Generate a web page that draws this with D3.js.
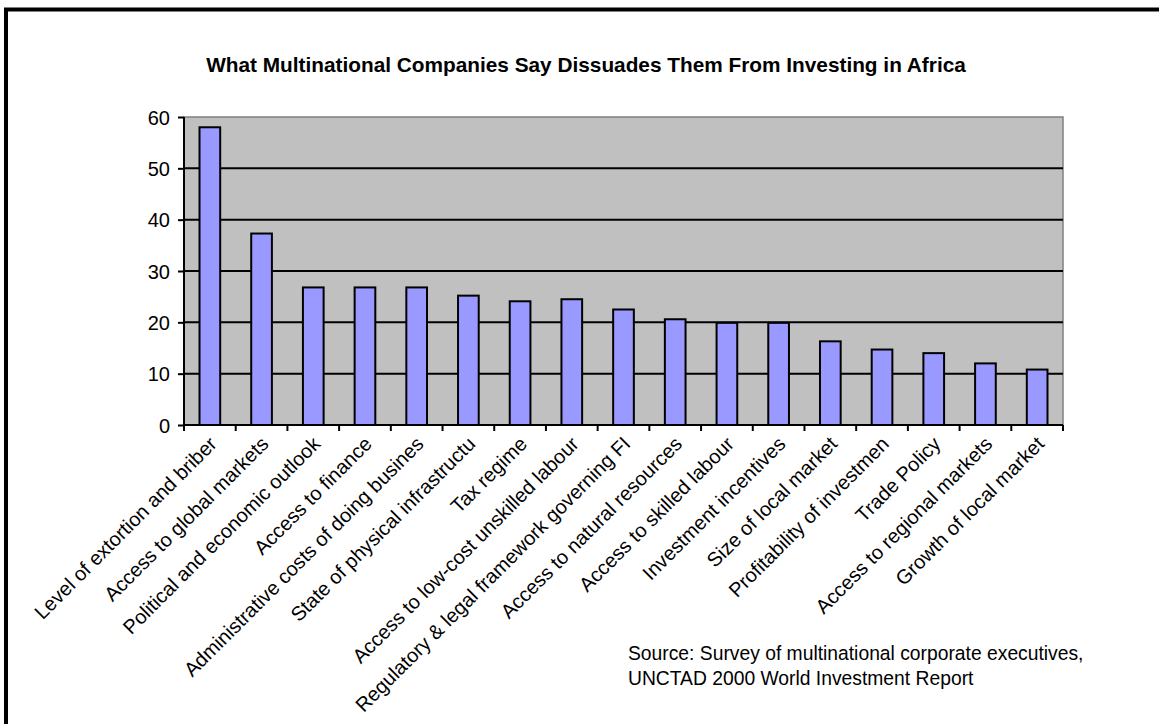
<!DOCTYPE html>
<html><head><meta charset="utf-8">
<script src="https://cdn.jsdelivr.net/npm/d3@7"></script>
<style>html,body{margin:0;padding:0;background:#fff;}svg{display:block;}</style>
</head><body>
<script>
const categories = [
  "Level of extortion and bribery",
  "Access to global markets",
  "Political and economic outlook",
  "Access to finance",
  "Administrative costs of doing business",
  "State of physical infrastructure",
  "Tax regime",
  "Access to low-cost unskilled labour",
  "Regulatory & legal framework governing FDI",
  "Access to natural resources",
  "Access to skilled labour",
  "Investment incentives",
  "Size of local market",
  "Profitability of investment",
  "Trade Policy",
  "Access to regional markets",
  "Growth of local market"
];
// labels as they appear (clipped) in the original chart
const shownLabels = [
  "Level of extortion and briber",
  "Access to global markets",
  "Political and economic outlook",
  "Access to finance",
  "Administrative costs of doing busines",
  "State of physical infrastructu",
  "Tax regime",
  "Access to low-cost unskilled labour",
  "Regulatory & legal framework governing FI",
  "Access to natural resources",
  "Access to skilled labour",
  "Investment incentives",
  "Size of local market",
  "Profitability of investmen",
  "Trade Policy",
  "Access to regional markets",
  "Growth of local market"
];
const values = [58, 37.3, 26.8, 26.8, 26.8, 25.2, 24.1, 24.5, 22.5, 20.6, 19.9, 19.9, 16.3, 14.7, 14.0, 12.0, 10.8];
const yTicks = [0, 10, 20, 30, 40, 50, 60];
const title = "What Multinational Companies Say Dissuades Them From Investing in Africa";
const sourceLines = ["Source: Survey of multinational corporate executives,", "UNCTAD 2000 World Investment Report"];

const W = 1159, H = 724;
const plot = {left: 184, right: 1063, top: 117, bottom: 425};
const FONT = "'Liberation Sans', Arial, sans-serif";

const svg = d3.select("body").append("svg").attr("width", W).attr("height", H);
svg.append("rect").attr("width", W).attr("height", H).attr("fill", "#fff");
// outer chart border (extends beyond the picture on right/bottom)
svg.append("rect").attr("x", 6).attr("y", 9.5).attr("width", W + 20).attr("height", H + 20)
  .attr("fill", "none").attr("stroke", "#000").attr("stroke-width", 4);

const x = d3.scaleBand().domain(categories).range([plot.left, plot.right]).paddingInner(0.6).paddingOuter(0.3);
const xb = d3.scaleBand().domain(categories).range([plot.left, plot.right]);
const y = d3.scaleLinear().domain([0, 60]).range([plot.bottom, plot.top]);

// plot area
svg.append("rect").attr("x", plot.left).attr("y", plot.top)
  .attr("width", plot.right - plot.left).attr("height", plot.bottom - plot.top)
  .attr("fill", "#c0c0c0").attr("stroke", "#808080").attr("stroke-width", 1.5);

// gridlines
svg.append("g").selectAll("line").data(yTicks.filter(d => d > 0 && d < 60)).join("line")
  .attr("x1", plot.left).attr("x2", plot.right)
  .attr("y1", d => y(d)).attr("y2", d => y(d))
  .attr("stroke", "#000").attr("stroke-width", 2);

// bars
svg.append("g").selectAll("rect").data(values).join("rect")
  .attr("x", (d, i) => x(categories[i]))
  .attr("width", x.bandwidth())
  .attr("y", d => y(d))
  .attr("height", d => y(0) - y(d))
  .attr("fill", "#9999ff").attr("stroke", "#000").attr("stroke-width", 2);

// y axis
const yAxis = d3.axisLeft(y).tickValues(yTicks).tickSize(6).tickPadding(8).tickFormat(d3.format("d"));
const gy = svg.append("g").attr("transform", `translate(${plot.left},0)`).call(yAxis);
gy.select(".domain").attr("stroke", "#000").attr("stroke-width", 2).attr("d", `M0,${plot.top}V${plot.bottom}`);
gy.selectAll(".tick line").attr("stroke", "#000").attr("stroke-width", 2);
gy.selectAll(".tick text").attr("font-family", FONT).attr("font-size", 20).attr("fill", "#000").attr("dy", "0.36em");

// x axis line and ticks at category boundaries
const gx = svg.append("g");
gx.append("line").attr("x1", plot.left).attr("x2", plot.right).attr("y1", plot.bottom).attr("y2", plot.bottom)
  .attr("stroke", "#000").attr("stroke-width", 2);
const bounds = categories.map(c => xb(c)).concat([plot.right]);
gx.selectAll("line.tk").data(bounds).join("line").attr("class", "tk")
  .attr("x1", d => d).attr("x2", d => d).attr("y1", plot.bottom).attr("y2", plot.bottom + 6)
  .attr("stroke", "#000").attr("stroke-width", 2);

// rotated category labels
gx.selectAll("text.lbl").data(shownLabels).join("text").attr("class", "lbl")
  .attr("transform", (d, i) => `translate(${xb(categories[i]) + xb.bandwidth() / 2 - 2},${plot.bottom + 10}) rotate(-45)`)
  .attr("text-anchor", "end").attr("dy", "0.72em")
  .attr("font-family", FONT).attr("font-size", 20).attr("fill", "#000")
  .text(d => d);

// title
svg.append("text").attr("x", 586).attr("y", 72).attr("text-anchor", "middle")
  .attr("font-family", FONT).attr("font-weight", "bold").attr("font-size", 20.8).attr("fill", "#000")
  .text(title);

// source note
svg.append("g").selectAll("text").data(sourceLines).join("text")
  .attr("x", 628).attr("y", (d, i) => 660 + i * 25)
  .attr("font-family", FONT).attr("font-size", 19.3).attr("fill", "#000")
  .text(d => d);
</script>
</body></html>
